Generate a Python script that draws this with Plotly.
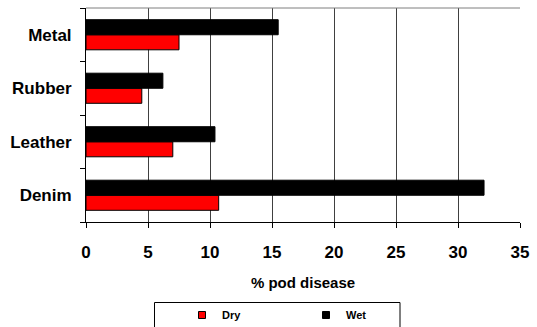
import plotly.graph_objects as go

# Pod disease by material, dry vs wet
materials = ["Denim", "Leather", "Rubber", "Metal"]
dry = [10.7, 7.0, 4.5, 7.5]
wet = [32.1, 10.4, 6.2, 15.5]
series_names = ["Dry", "Wet"]
series_colors = ["#FF0000", "#000000"]
x_ticks = [0, 5, 10, 15, 20, 25, 30, 35]

FONT = "Liberation Sans, Arial, sans-serif"
W, H = 537, 327
ML, MR, MT, MB = 86, 17, 8, 105
PW, PH = W - ML - MR, H - MT - MB


def px_x(p):
    """page pixel x -> paper fraction"""
    return (p - ML) / PW


def px_y(p):
    """page pixel y -> paper fraction"""
    return (H - MB - p) / PH


fig = go.Figure()
for name, vals, col in zip(series_names, [dry, wet], series_colors):
    fig.add_trace(go.Bar(
        y=materials, x=vals, name=name, orientation="h",
        marker=dict(color=col, line=dict(color="black", width=1)),
        showlegend=False,
    ))
    # compact square legend key
    fig.add_trace(go.Scatter(
        x=[None], y=[None], mode="markers", name=name,
        marker=dict(symbol="square", size=7, color=col,
                    line=dict(color="black", width=1)),
    ))

fig.update_layout(
    width=W, height=H,
    margin=dict(l=ML, r=MR, t=MT, b=MB),
    paper_bgcolor="white", plot_bgcolor="white",
    barmode="group", bargap=0.4375, bargroupgap=0,
    font=dict(family=FONT, color="black"),
    showlegend=True,
    legend=dict(
        orientation="h",
        xref="container", x=182 / W, xanchor="left",
        yref="container", y=1 - 315 / H, yanchor="middle",
        entrywidth=79, entrywidthmode="pixels",
        font=dict(family=FONT, size=11, color="black", weight="bold"),
        bgcolor="rgba(0,0,0,0)", borderwidth=0,
        itemclick=False,
    ),
    shapes=[
        # legend frame
        dict(type="rect", xref="paper", yref="paper",
             x0=px_x(154.5), x1=px_x(400), y0=px_y(302.5), y1=px_y(330),
             line=dict(color="black", width=1), fillcolor="rgba(0,0,0,0)",
             layer="below"),
        # top edge of the plot area
        dict(type="line", xref="paper", yref="paper",
             x0=0, x1=1, y0=1, y1=1,
             line=dict(color="#7f7f7f", width=1)),
    ],
)

fig.update_xaxes(
    range=[0, 35], tickvals=x_ticks, ticktext=[str(v) for v in x_ticks],
    showgrid=True, gridcolor="#404040", gridwidth=1,
    showline=True, linecolor="black", linewidth=1,
    ticks="outside", ticklen=5, tickcolor="black",
    ticklabelstandoff=10,
    tickfont=dict(family=FONT, size=17, weight="bold"),
    zeroline=False,
    title=dict(text="% pod disease", standoff=16,
               font=dict(family=FONT, size=15, weight="bold")),
    automargin=False,
)
fig.update_yaxes(
    categoryorder="array", categoryarray=materials,
    showline=True, linecolor="black", linewidth=1,
    ticks="outside", ticklen=5, tickcolor="black", tickson="boundaries",
    ticklabelstandoff=10,
    tickfont=dict(family=FONT, size=17, weight="bold"),
    showgrid=False, automargin=False,
)

fig.write_html("out.html")
